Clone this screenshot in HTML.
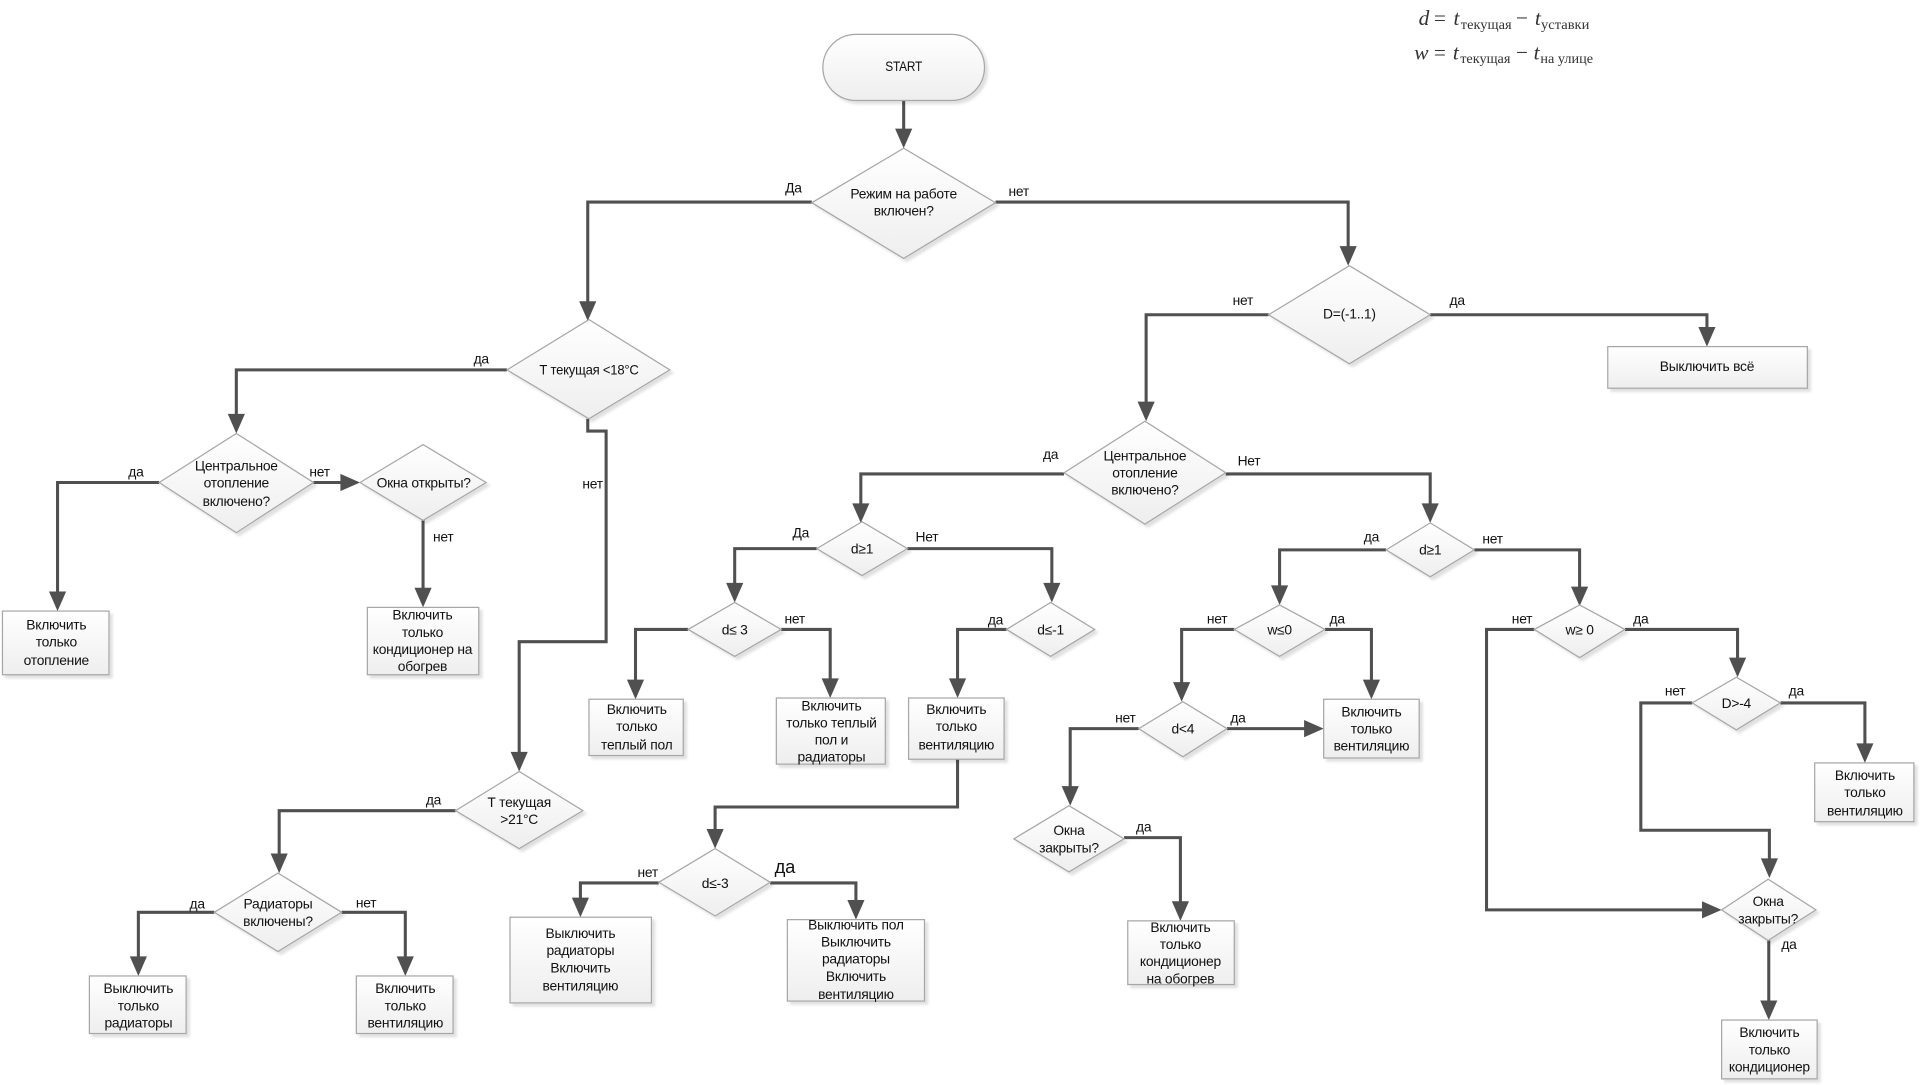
<!DOCTYPE html>
<html><head><meta charset="utf-8"><style>
html,body{margin:0;padding:0;background:#fff}
svg{display:block}
text{font-family:"Liberation Sans","Noto Sans CJK SC",sans-serif;font-size:11.3px;letter-spacing:-.2px;fill:#111;text-anchor:middle}
.l{fill:none;stroke:#505050;stroke-width:2.5}
.a{fill:#505050;stroke:none}
.s{fill:url(#g);stroke:#a6a6a6;stroke-width:1;filter:url(#sh)}
.m{font-family:"Liberation Serif",serif;font-size:17.5px;letter-spacing:0;text-anchor:start;fill:#333}
.i{font-style:italic}
.u{font-family:"Liberation Serif",serif;font-size:11.5px;letter-spacing:0;text-anchor:start;fill:#333}
</style></head><body>
<svg xmlns="http://www.w3.org/2000/svg" width="1920" height="1085" viewBox="0 0 1568 886">
<defs>
<linearGradient id="g" x1="0" y1="0" x2="0" y2="1"><stop offset="0" stop-color="#fff"/><stop offset="1" stop-color="#eeeeee"/></linearGradient>
<filter id="sh" x="-10%" y="-10%" width="125%" height="125%"><feDropShadow dx="2.500" dy="2.500" stdDeviation="1" flood-color="#000" flood-opacity=".12"/></filter>
</defs>

<!-- connectors -->
<path class="l" d="M738 82V110"/>
<path class="l" d="M663 165H480V250"/>
<path class="l" d="M813 165H1101V205"/>
<path class="l" d="M1168 257H1394V271"/>
<path class="l" d="M1036 257H936V333"/>
<path class="l" d="M414 302H193V342"/>
<path class="l" d="M130 394H47V487"/>
<path class="l" d="M256 394H282"/>
<path class="l" d="M345.500 425V484"/>
<path class="l" d="M480 342V352H495V524H424V618"/>
<path class="l" d="M372 662H228V701"/>
<path class="l" d="M175 745H113V785"/>
<path class="l" d="M279 745H331V785"/>
<path class="l" d="M869 387H703V415"/>
<path class="l" d="M1001 387H1168V415"/>
<path class="l" d="M667 448H600V480"/>
<path class="l" d="M741 448H859V480"/>
<path class="l" d="M562 514H519V559"/>
<path class="l" d="M638 514H678V558"/>
<path class="l" d="M822 514H782V558"/>
<path class="l" d="M782 620V659H584V681"/>
<path class="l" d="M538 721H474V737"/>
<path class="l" d="M629 721H699V739"/>
<path class="l" d="M1132 449H1045V482"/>
<path class="l" d="M1204 449H1290V483"/>
<path class="l" d="M1008 514H965V561"/>
<path class="l" d="M1082 514H1120V559"/>
<path class="l" d="M1002 595H1069"/>
<path class="l" d="M930 595H874V646"/>
<path class="l" d="M918 684H964V740"/>
<path class="l" d="M1327 514H1419V541"/>
<path class="l" d="M1454 574H1523V611"/>
<path class="l" d="M1382 574H1340V678H1445V705"/>
<path class="l" d="M1253 514H1214V743H1394"/>
<path class="l" d="M1444.500 768V821"/>

<!-- arrowheads -->
<g class="a">
<polygon points="731,105 745,105 738,121"/>
<polygon points="473,246 487,246 480,262"/>
<polygon points="1094,201 1108,201 1101,217"/>
<polygon points="1387,267 1401,267 1394,283"/>
<polygon points="929,328 943,328 936,344"/>
<polygon points="186,338 200,338 193,354"/>
<polygon points="40,483 54,483 47,499"/>
<polygon points="278,387 278,401 294,394"/>
<polygon points="338.500,480 352.500,480 345.500,496"/>
<polygon points="417,614 431,614 424,630"/>
<polygon points="221,697 235,697 228,713"/>
<polygon points="106,781 120,781 113,797"/>
<polygon points="324,781 338,781 331,797"/>
<polygon points="696,411 710,411 703,427"/>
<polygon points="1161,411 1175,411 1168,427"/>
<polygon points="593,476 607,476 600,492"/>
<polygon points="852,476 866,476 859,492"/>
<polygon points="512,555 526,555 519,571"/>
<polygon points="671,554 685,554 678,570"/>
<polygon points="775,554 789,554 782,570"/>
<polygon points="577,677 591,677 584,693"/>
<polygon points="467,733 481,733 474,749"/>
<polygon points="692,735 706,735 699,751"/>
<polygon points="1038,478 1052,478 1045,494"/>
<polygon points="1283,479 1297,479 1290,495"/>
<polygon points="958,557 972,557 965,573"/>
<polygon points="1113,555 1127,555 1120,571"/>
<polygon points="1065,588 1065,602 1081,595"/>
<polygon points="867,642 881,642 874,658"/>
<polygon points="957,736 971,736 964,752"/>
<polygon points="1412,537 1426,537 1419,553"/>
<polygon points="1516,607 1530,607 1523,623"/>
<polygon points="1438,701 1452,701 1445,717"/>
<polygon points="1390,736 1390,750 1406,743"/>
<polygon points="1437.500,817 1451.500,817 1444.500,833"/>
</g>

<!-- shapes -->
<rect class="s" x="672" y="28" width="132" height="54" rx="27" ry="27"/>
<polygon class="s" points="663,165.500 738,121 813,165.500 738,211"/>
<polygon class="s" points="1036,257 1102,217 1168,257 1102,297"/>
<rect class="s" x="1313" y="283" width="163" height="34"/>
<polygon class="s" points="414,302 481,261 547,302 481,342"/>
<polygon class="s" points="130,394 193,354 256,394 193,435"/>
<polygon class="s" points="294,394 345.500,363 397,394 345.500,425"/>
<rect class="s" x="2" y="499" width="87" height="52"/>
<rect class="s" x="300" y="496" width="91" height="55"/>
<polygon class="s" points="372,662 424,630 476,662 424,693"/>
<polygon class="s" points="175,745 227,713 279,745 227,777"/>
<rect class="s" x="73" y="797" width="79" height="47"/>
<rect class="s" x="291" y="797" width="79" height="47"/>
<polygon class="s" points="869,386 935,344 1001,386 935,428"/>
<polygon class="s" points="667,448 704,426 741,448 704,470"/>
<polygon class="s" points="1132,449 1168,427 1204,449 1168,471"/>
<polygon class="s" points="562,514 600,492 638,514 600,536"/>
<polygon class="s" points="822,514 858,492 894,514 858,536"/>
<rect class="s" x="481" y="571" width="77" height="46"/>
<rect class="s" x="634" y="570" width="89" height="54"/>
<rect class="s" x="742" y="570" width="78" height="50"/>
<polygon class="s" points="538,720.500 584,693 629,720.500 584,748"/>
<rect class="s" x="416.500" y="749" width="115.500" height="70"/>
<rect class="s" x="643" y="751" width="112" height="66.500"/>
<polygon class="s" points="1008,514 1045,494 1082,514 1045,536"/>
<polygon class="s" points="1253,514 1290,494 1327,514 1290,537"/>
<polygon class="s" points="930,595 966,573 1002,595 966,618"/>
<rect class="s" x="1081" y="571" width="78" height="48"/>
<polygon class="s" points="828,685 873,658 918,685 873,712"/>
<rect class="s" x="921" y="752" width="87" height="52"/>
<polygon class="s" points="1382,574 1418,553 1454,574 1418,596"/>
<rect class="s" x="1482" y="623" width="81" height="48"/>
<polygon class="s" points="1406,743 1444,718 1483,743 1444,768"/>
<rect class="s" x="1406" y="833" width="78" height="48"/>

<!-- node text -->
<text x="738" y="58" textLength="30" lengthAdjust="spacingAndGlyphs">START</text>
<text x="738" y="162">Режим на работе</text><text x="738" y="176">включен?</text>
<text x="1102" y="260">D=(-1..1)</text>
<text x="1394" y="303">Выключить всё</text>
<text x="481" y="306" textLength="81" lengthAdjust="spacingAndGlyphs">Т текущая &lt;18°С</text>
<text x="193" y="384">Центральное</text><text x="193" y="398">отопление</text><text x="193" y="413">включено?</text>
<text x="346" y="398">Окна открыты?</text>
<text x="46" y="514">Включить</text><text x="46" y="528">только</text><text x="46" y="543">отопление</text>
<text x="345" y="506">Включить</text><text x="345" y="520">только</text><text x="345" y="534">кондиционер на</text><text x="345" y="548">обогрев</text>
<text x="424" y="659">Т текущая</text><text x="424" y="673">&gt;21°С</text>
<text x="227" y="742">Радиаторы</text><text x="227" y="756">включены?</text>
<text x="113" y="811">Выключить</text><text x="113" y="825">только</text><text x="113" y="839">радиаторы</text>
<text x="331" y="811">Включить</text><text x="331" y="825">только</text><text x="331" y="839">вентиляцию</text>
<text x="935" y="376">Центральное</text><text x="935" y="390">отопление</text><text x="935" y="404">включено?</text>
<text x="704" y="452">d≥1</text>
<text x="1168" y="453">d≥1</text>
<text x="600" y="518">d≤ 3</text>
<text x="858" y="518">d≤-1</text>
<text x="520" y="583">Включить</text><text x="520" y="597">только</text><text x="520" y="612">теплый пол</text>
<text x="679" y="580">Включить</text><text x="679" y="594">только теплый</text><text x="679" y="608">пол и</text><text x="679" y="622">радиаторы</text>
<text x="781" y="583">Включить</text><text x="781" y="597">только</text><text x="781" y="612">вентиляцию</text>
<text x="584" y="725">d≤-3</text>
<text x="474" y="766">Выключить</text><text x="474" y="780">радиаторы</text><text x="474" y="794">Включить</text><text x="474" y="809">вентиляцию</text>
<text x="699" y="759">Выключить пол</text><text x="699" y="773">Выключить</text><text x="699" y="787">радиаторы</text><text x="699" y="801">Включить</text><text x="699" y="816">вентиляцию</text>
<text x="1045" y="518">w≤0</text>
<text x="1290" y="518">w≥ 0</text>
<text x="966" y="599">d&lt;4</text>
<text x="1120" y="585">Включить</text><text x="1120" y="599">только</text><text x="1120" y="613">вентиляцию</text>
<text x="873" y="682">Окна</text><text x="873" y="696">закрыты?</text>
<text x="964" y="761">Включить</text><text x="964" y="775">только</text><text x="964" y="789">кондиционер</text><text x="964" y="803">на обогрев</text>
<text x="1418" y="578">D&gt;-4</text>
<text x="1523" y="637">Включить</text><text x="1523" y="651">только</text><text x="1523" y="666">вентиляцию</text>
<text x="1444" y="740">Окна</text><text x="1444" y="754">закрыты?</text>
<text x="1445" y="847">Включить</text><text x="1445" y="861">только</text><text x="1445" y="875">кондиционер</text>

<!-- connector labels -->
<text x="648" y="157">Да</text>
<text x="832" y="160">нет</text>
<text x="1015" y="249">нет</text>
<text x="1190" y="249">да</text>
<text x="393" y="297">да</text>
<text x="484" y="399">нет</text>
<text x="111" y="389">да</text>
<text x="261" y="389">нет</text>
<text x="362" y="442">нет</text>
<text x="858" y="375">да</text>
<text x="1020" y="380">Нет</text>
<text x="654" y="439">Да</text>
<text x="757" y="442">Нет</text>
<text x="1120" y="442">да</text>
<text x="1219" y="444">нет</text>
<text x="649" y="509">нет</text>
<text x="813" y="510">да</text>
<text x="994" y="509">нет</text>
<text x="1092" y="509">да</text>
<text x="1243" y="509">нет</text>
<text x="1340" y="509">да</text>
<text x="1368" y="568">нет</text>
<text x="1467" y="568">да</text>
<text x="919" y="590">нет</text>
<text x="1011" y="590">да</text>
<text x="934" y="679">да</text>
<text x="1461" y="775">да</text>
<text x="354" y="657">да</text>
<text x="161" y="742">да</text>
<text x="299" y="741">нет</text>
<text x="529" y="716">нет</text>
<text x="641" y="713" style="font-size:15px">да</text>

<!-- formulas -->
<text class="m i" x="1158.500" y="20.500">d</text><text class="m" x="1171" y="20.500">=</text><text class="m i" x="1187" y="20.500">t</text>
<text class="u" x="1193" y="23.500" textLength="41.500" lengthAdjust="spacingAndGlyphs">текущая</text>
<text class="m" x="1238" y="20.500">−</text><text class="m i" x="1253.500" y="20.500">t</text>
<text class="u" x="1258.500" y="23.500" textLength="39.500" lengthAdjust="spacingAndGlyphs">уставки</text>
<text class="m i" x="1155" y="48.500">w</text><text class="m" x="1171" y="48.500">=</text><text class="m i" x="1186.500" y="48.500">t</text>
<text class="u" x="1192.500" y="51.500" textLength="41" lengthAdjust="spacingAndGlyphs">текущая</text>
<text class="m" x="1238" y="48.500">−</text><text class="m i" x="1252.500" y="48.500">t</text>
<text class="u" x="1258" y="51.500" textLength="43" lengthAdjust="spacingAndGlyphs">на улице</text>
</svg>
</body></html>
